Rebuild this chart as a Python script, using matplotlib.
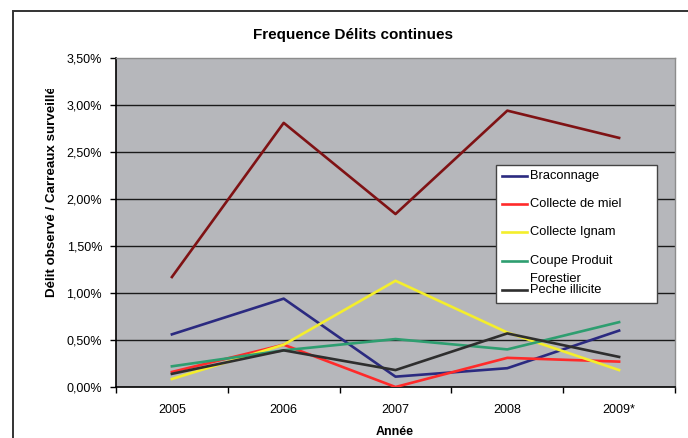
import matplotlib
matplotlib.use("Agg")
import matplotlib.pyplot as plt
from matplotlib.patches import Rectangle
from matplotlib.lines import Line2D
from matplotlib.transforms import Bbox

plt.rcParams['font.family'] = ['Liberation Sans', 'DejaVu Sans']

## data (percent)
years = ['2005', '2006', '2007', '2008', '2009*']
braconnage = [0.56, 0.94, 0.11, 0.20, 0.60]
miel = [0.16, 0.45, 0.00, 0.31, 0.27]
ignam = [0.085, 0.45, 1.13, 0.58, 0.18]
coupe = [0.22, 0.39, 0.51, 0.40, 0.69]
peche = [0.14, 0.39, 0.18, 0.57, 0.32]
total = [1.17, 2.81, 1.84, 2.94, 2.65]
y_ticks = [0.0, 0.5, 1.0, 1.5, 2.0, 2.5, 3.0, 3.5]

series = [
    ('Braconnage', braconnage, '#2b2a80'),
    ('Collecte de miel', miel, '#ff2a2a'),
    ('Collecte Ignam', ignam, '#f4ee2c'),
    ('Coupe Produit\nForestier', coupe, '#2e9e70'),
    ('Peche illicite', peche, '#2e2e2e'),
]

W, H = 688, 438
fig = plt.figure(figsize=(W / 100, H / 100), dpi=100)


def fx(x):
    return x / W


def fy(y):
    return 1 - y / H


## plot area in pixels: x 116..675, y 58..387
ax = fig.add_axes([fx(116), fy(387), fx(675) - fx(116), fy(58) - fy(387)])
ax.set_facecolor('#b6b7bb')

x = list(range(len(years)))
ax.plot(x, total, color='#7f1214', lw=1.9, zorder=3)
for name, vals, col in series:
    ax.plot(x, vals, color=col, lw=1.9, zorder=3)

ax.set_xlim(-0.5, len(years) - 0.5)
ax.set_ylim(0, 3.5)
ax.set_yticks(y_ticks)
ax.set_yticklabels([('%.2f%%' % v).replace('.', ',') for v in y_ticks], fontsize=9)
for v in y_ticks[1:-1]:
    ax.axhline(v, color='#1a1a1a', lw=1.0, zorder=1)

ax.set_xticks([i - 0.5 for i in range(len(years) + 1)])
ax.set_xticklabels([])
ax.set_xticks(x, minor=True)
ax.set_xticklabels(years, minor=True, fontsize=9)
ax.tick_params(axis='x', which='major', direction='out', length=4, width=1, color='black')
ax.tick_params(axis='x', which='minor', length=0, pad=12)
ax.tick_params(axis='y', direction='out', length=4, width=1, pad=6, color='black')

for s in ['left', 'bottom']:
    ax.spines[s].set_color('black')
    ax.spines[s].set_linewidth(1.2)
for s in ['top', 'right']:
    ax.spines[s].set_color('#8c8c8c')
    ax.spines[s].set_linewidth(1.0)

fig.text(fx(395), fy(432), 'Année', ha='center', va='center', fontsize=9, fontweight='bold')
fig.text(fx(353), fy(35), 'Frequence Délits continues', ha='center', va='center',
         fontsize=11, fontweight='bold')

## y label, clipped at the top like the original
yl = fig.text(fx(52), fy(297), 'Délit observé / Carreaux surveillé', rotation=90,
              ha='center', va='bottom', fontsize=9.6, fontweight='bold')
yl.set_clip_box(Bbox([[0, 0], [W, H - 89]]))
yl.set_clip_on(True)

## outer frame
fig.add_artist(Rectangle((fx(13), fy(460)), fx(720) - fx(13), fy(11) - fy(460),
                         transform=fig.transFigure, fill=False,
                         edgecolor='#333333', lw=1.4))

## legend drawn by hand (Excel style)
fig.add_artist(Rectangle((fx(496), fy(303)), fx(657) - fx(496), fy(165) - fy(303),
                         transform=fig.transFigure, facecolor='white',
                         edgecolor='#444444', lw=1.0, zorder=5))
leg_y = [176, 204, 232, 261, 290]
for (name, vals, col), yy in zip(series, leg_y):
    fig.add_artist(Line2D([fx(502), fx(527)], [fy(yy), fy(yy)], color=col, lw=1.9,
                          transform=fig.transFigure, zorder=6))
    for k, part in enumerate(name.split('\n')):
        fig.text(fx(530), fy(yy + k * 17.5), part, ha='left', va='center',
                 fontsize=9.3, zorder=6)

fig.savefig('out.png', dpi=100)
